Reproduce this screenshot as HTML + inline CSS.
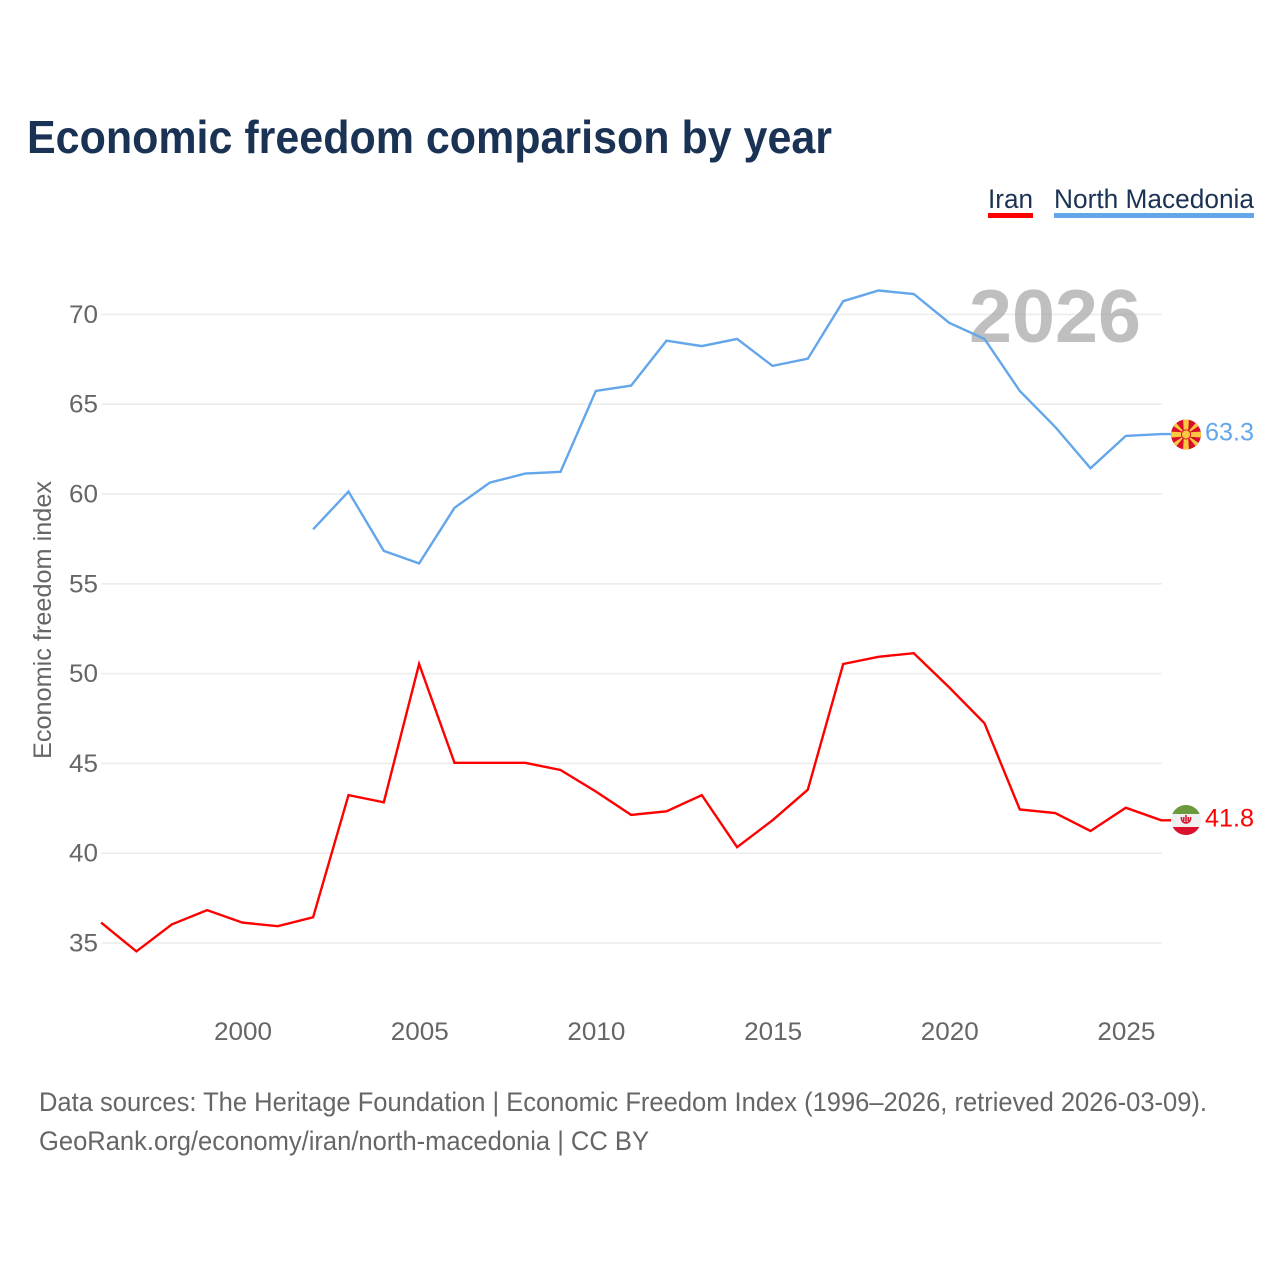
<!DOCTYPE html>
<html lang="en">
<head>
<meta charset="utf-8">
<title>Economic freedom comparison by year</title>
<style>
html,body{margin:0;padding:0;background:#fff;width:1280px;height:1280px;overflow:hidden}
svg{display:block}
text{font-family:"Liberation Sans",sans-serif}
</style>
</head>
<body>
<svg id="chart" width="1280" height="1280" viewBox="0 0 1280 1280" xmlns="http://www.w3.org/2000/svg">
  <text x="27" y="153" font-size="46" font-weight="700" fill="#1a3354" textLength="805" lengthAdjust="spacingAndGlyphs">Economic freedom comparison by year</text>

  <g>
    <text x="988" y="208" font-size="27" fill="#1a3354" textLength="45" lengthAdjust="spacingAndGlyphs">Iran</text>
    <rect x="988" y="213" width="45" height="5" fill="#ff0000"/>
  </g>
  <g>
    <text x="1054" y="208" font-size="27" fill="#1a3354" textLength="200" lengthAdjust="spacingAndGlyphs">North Macedonia</text>
    <rect x="1054" y="213" width="200" height="5" fill="#63a6ea"/>
  </g>

  <g id="grid"></g>
  <text x="969" y="342" font-size="75" font-weight="700" fill="#a6a6a6" fill-opacity="0.72" textLength="172" lengthAdjust="spacingAndGlyphs">2026</text>
  <g id="yticks"></g>
  <g id="xticks"></g>
  <text transform="translate(51 759) rotate(-90)" font-size="25" fill="#666666" textLength="278" lengthAdjust="spacingAndGlyphs">Economic freedom index</text>

  <g id="series" transform="translate(-0.6 -0.6)"></g>

  <defs>
    <clipPath id="clip-mk"><circle cx="1186" cy="434.5" r="15"/></clipPath>
    <clipPath id="clip-ir"><circle cx="1186" cy="820" r="15"/></clipPath>
  </defs>
  <g id="flag-mk" clip-path="url(#clip-mk)">
    <rect x="1171" y="419" width="30" height="31" fill="#d70f2b"/>
    <g fill="#fbc93f">
      <polygon points="1184,434.5 1188,434.5 1189,418 1183,418"/>
      <polygon points="1184,434.5 1188,434.5 1189,451 1183,451"/>
      <polygon points="1186,432.5 1186,436.5 1170,437.5 1170,431.5"/>
      <polygon points="1186,432.5 1186,436.5 1202,437.5 1202,431.5"/>
      <polygon points="1186,434.5 1173,419 1169,423"/>
      <polygon points="1186,434.5 1199,419 1203,423"/>
      <polygon points="1186,434.5 1173,450 1169,446"/>
      <polygon points="1186,434.5 1199,450 1203,446"/>
    </g>
    <circle cx="1186" cy="434.5" r="4.6" fill="#fbc93f" stroke="#d70f2b" stroke-width="1"/>
  </g>
  <g id="flag-ir" clip-path="url(#clip-ir)">
    <rect x="1171" y="805" width="30" height="30" fill="#f0f0f0"/>
    <rect x="1171" y="805" width="30" height="9" fill="#6a9a3c"/>
    <rect x="1171" y="827" width="30" height="8" fill="#d9112c"/>
    <path d="M1181.5 817c-.6 3 1.400 6 4.500 6s5.100-3 4.500-6M1186 815v8M1183.800 817v4M1188.200 817v4" fill="none" stroke="#d9112c" stroke-width="1.500"/>
  </g>

  <text x="1205" y="440.500" font-size="25" fill="#63a6ea" textLength="49" lengthAdjust="spacingAndGlyphs">63.3</text>
  <text x="1205" y="826.500" font-size="25" fill="#ff0000" textLength="49" lengthAdjust="spacingAndGlyphs">41.8</text>

  <text x="39" y="1111" font-size="26.500" fill="#666666" textLength="1168" lengthAdjust="spacingAndGlyphs">Data sources: The Heritage Foundation | Economic Freedom Index (1996–2026, retrieved 2026-03-09).</text>
  <text x="39" y="1150" font-size="26.500" fill="#666666" textLength="610" lengthAdjust="spacingAndGlyphs">GeoRank.org/economy/iran/north-macedonia | CC BY</text>
</svg>
<script>
var years = [1996,1997,1998,1999,2000,2001,2002,2003,2004,2005,2006,2007,2008,2009,2010,2011,2012,2013,2014,2015,2016,2017,2018,2019,2020,2021,2022,2023,2024,2025,2026];
var iranValues = [36.1,34.5,36.0,36.8,36.1,35.9,36.4,43.2,42.8,50.5,45.0,45.0,45.0,44.6,43.4,42.1,42.3,43.2,40.3,41.8,43.5,50.5,50.9,51.1,49.2,47.2,42.4,42.2,41.2,42.5,41.8];
var macedoniaValues = [null,null,null,null,null,null,58.0,60.1,56.8,56.1,59.2,60.6,61.1,61.2,65.7,66.0,68.5,68.2,68.6,67.1,67.5,70.7,71.3,71.1,69.5,68.6,65.7,63.7,61.4,63.2,63.3];
var yTickValues = [35,40,45,50,55,60,65,70];
var xTickValues = [2000,2005,2010,2015,2020,2025];

var NS = 'http://www.w3.org/2000/svg';
function xScale(year){ return 101.7 + (year - 1996) * 35.336; }
function yScale(value){ return 943 - (value - 35) * 17.96; }
function make(tag, attrs, parent){
  var el = document.createElementNS(NS, tag);
  for (var k in attrs) el.setAttribute(k, attrs[k]);
  parent.appendChild(el);
  return el;
}

var gridGroup = document.getElementById('grid');
var yGroup = document.getElementById('yticks');
yTickValues.forEach(function(v){
  var line = make('line', {x1:101.2, x2:1161.8, y1:yScale(v), y2:yScale(v), stroke:'#ececec', 'stroke-width':1.6}, gridGroup);
  
  
  var label = make('text', {x:98, y:yScale(v)+8.5, 'text-anchor':'end', 'font-size':25, fill:'#666666', textLength:29, lengthAdjust:'spacingAndGlyphs'}, yGroup);
  
  
  label.textContent = v;
});

var xGroup = document.getElementById('xticks');
xTickValues.forEach(function(y){
  var label = make('text', {x:xScale(y), y:1040, 'text-anchor':'middle', 'font-size':25, fill:'#666666', textLength:58, lengthAdjust:'spacingAndGlyphs'}, xGroup);
  
  
  label.textContent = y;
});

function buildPoints(values){
  var pts = [];
  var last = null;
  values.forEach(function(v, i){
    if (v === null) return;
    last = v;
    pts.push(xScale(years[i]).toFixed(1) + ',' + yScale(v).toFixed(1));
  });
  pts.push((xScale(years[years.length-1]) + 10).toFixed(1) + ',' + yScale(last).toFixed(1));
  return pts.join(' ');
}
var seriesGroup = document.getElementById('series');

var macedoniaLine = make('polyline', {points:buildPoints(macedoniaValues), fill:'none', stroke:'#63a6ea', 'stroke-width':2.4, 'stroke-linejoin':'miter'}, seriesGroup);



var iranLine = make('polyline', {points:buildPoints(iranValues), fill:'none', stroke:'#ff0000', 'stroke-width':2.4, 'stroke-linejoin':'miter'}, seriesGroup);


</script>
</body>
</html>
